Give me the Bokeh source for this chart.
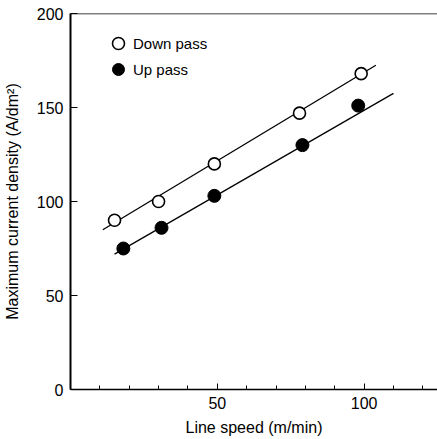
from bokeh.plotting import figure
from bokeh.models import Range1d, FixedTicker, Legend, LegendItem, Span
from bokeh.embed import file_html
from bokeh.resources import INLINE

# Data
down_x = [15, 30, 49, 78, 99]
down_y = [90, 100, 120, 147, 168]
up_x = [18, 31, 49, 79, 98]
up_y = [75, 86, 103, 130, 151]

# Fitted straight lines (endpoints as drawn)
down_fit_x = [11, 104]
down_fit_y = [85, 172.5]
up_fit_x = [15, 110]
up_fit_y = [72, 157.5]

x_major = [50, 100]
x_minor = [10, 20, 30, 40, 60, 70, 80, 90, 110, 120]
y_major = [0, 50, 100, 150, 200]

FONT = "Liberation Sans"

p = figure(width=437, height=439, output_backend="svg", toolbar_location=None,
           x_range=Range1d(0, 125), y_range=Range1d(0, 200),
           min_border_left=70, min_border_right=0, min_border_top=13, min_border_bottom=50)
p.background_fill_color = "white"
p.border_fill_color = "white"
p.outline_line_color = None
p.grid.visible = False

# Fit lines
p.line(down_fit_x, down_fit_y, line_color="black", line_width=1.3)
p.line(up_fit_x, up_fit_y, line_color="black", line_width=1.3)

# Markers
r_down = p.scatter(down_x, down_y, marker="circle", size=12, fill_color="white",
                   line_color="black", line_width=1.6)
r_up = p.scatter(up_x, up_y, marker="circle", size=13, fill_color="black",
                 line_color="black", line_width=1)

# Axes
xa = p.xaxis[0]
xa.ticker = FixedTicker(ticks=x_major, minor_ticks=x_minor)
xa.axis_label = "Line speed (m/min)"
xa.axis_line_width = 1.5
xa.major_tick_in = 6
xa.major_tick_out = 0
xa.minor_tick_in = 4
xa.minor_tick_out = 0
xa.major_label_standoff = 7
xa.axis_label_standoff = 7

ya = p.yaxis[0]
ya.ticker = FixedTicker(ticks=y_major)
ya.axis_label = "Maximum current density (A/dm²)"
ya.axis_line_width = 2
ya.major_tick_in = 7
ya.major_tick_out = 0
ya.minor_tick_in = 0
ya.minor_tick_out = 0
ya.major_label_standoff = 7
ya.axis_label_standoff = 13

for ax in (xa, ya):
    ax.major_label_text_font = FONT
    ax.major_label_text_font_size = "16px"
    ax.major_label_text_color = "black"
    ax.axis_label_text_font = FONT
    ax.axis_label_text_font_size = "16px"
    ax.axis_label_text_font_style = "normal"
    ax.axis_label_text_color = "black"
    ax.axis_line_color = "black"
    ax.major_tick_line_color = "black"
    ax.minor_tick_line_color = "black"

# Top frame line
p.add_layout(Span(location=200, dimension="width", line_color="black", line_width=1.5))


def make_legend(label, renderer, loc):
    lg = Legend(items=[LegendItem(label=label, renderers=[renderer])], location=loc)
    lg.glyph_width = 30
    lg.glyph_height = 30
    lg.padding = 0
    lg.margin = 0
    lg.label_standoff = 0
    lg.label_text_font = FONT
    lg.label_text_font_size = "15px"
    lg.label_text_color = "black"
    lg.border_line_color = None
    lg.background_fill_alpha = 0
    return lg


p.add_layout(make_legend("Down pass", r_down, (33, 331)), "center")
p.add_layout(make_legend("Up pass", r_up, (33, 305)), "center")

open("out.html", "w").write(file_html(p, INLINE))
